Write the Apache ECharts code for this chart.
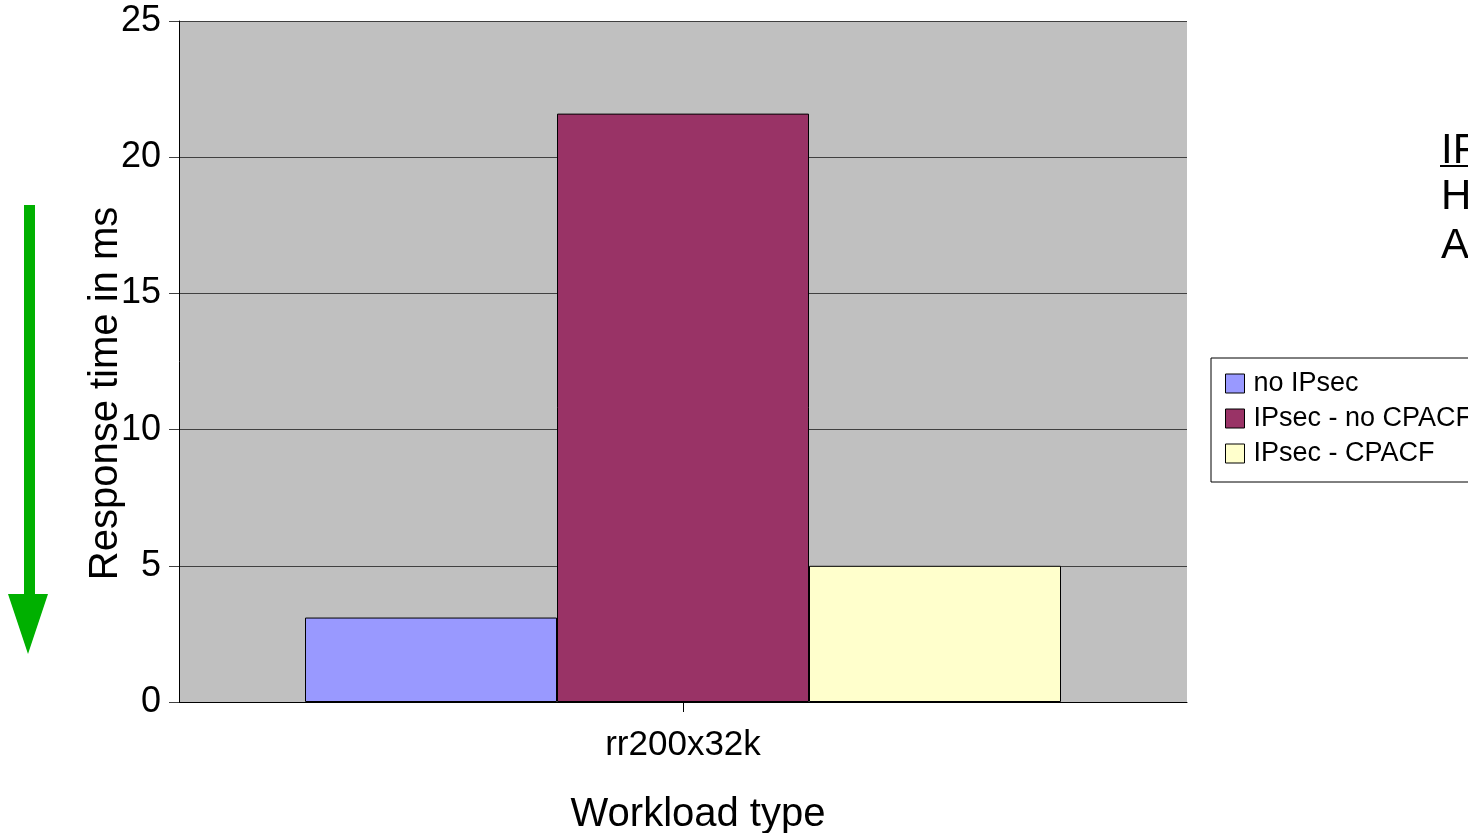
<!DOCTYPE html>
<html>
<head>
<meta charset="utf-8">
<style>
  html, body { margin: 0; padding: 0; background: #ffffff; }
  #chart { width: 1468px; height: 833px; }
</style>
<script src="https://cdn.jsdelivr.net/npm/echarts@6/dist/echarts.min.js"></script>
</head>
<body>
<div id="chart"></div>
<script>
// Workload categories and response times (ms) per configuration
const categories = ['rr200x32k'];
const seriesNames = ['no IPsec', 'IPsec - no CPACF', 'IPsec - CPACF'];
const noIpsec = [3.1];
const ipsecNoCpacf = [21.6];
const ipsecCpacf = [5.0];
const seriesColors = ['#9999ff', '#993366', '#ffffcc'];
const yTicks = { min: 0, max: 25, interval: 5 };

const FONT = 'Liberation Sans, Arial, sans-serif';
const chart = echarts.init(document.getElementById('chart'), null, { renderer: 'canvas' });

const values = [noIpsec, ipsecNoCpacf, ipsecCpacf];

const option = {
  animation: false,
  backgroundColor: '#ffffff',
  grid: {
    left: 179, right: 281, top: 21, bottom: 131,
    containLabel: false,
    outerBoundsMode: 'none',
    show: true, backgroundColor: '#c0c0c0', borderWidth: 0
  },
  legend: {
    orient: 'vertical',
    left: 1211, top: 358,
    padding: [12, 60, 15, 14],
    itemGap: 8,
    itemWidth: 19, itemHeight: 19,
    icon: 'rect',
    borderColor: '#000000', borderWidth: 1,
    backgroundColor: '#ffffff',
    itemStyle: { borderColor: '#000000', borderWidth: 1 },
    textStyle: { fontFamily: FONT, fontSize: 27, color: '#000000', padding: [0, 0, 0, 4], lineHeight: 27 },
    data: seriesNames
  },
  xAxis: {
    type: 'category',
    data: categories,
    name: 'Workload type',
    nameLocation: 'middle',
    nameGap: 93,
    nameMoveOverlap: false,
    nameTextStyle: { fontFamily: FONT, fontSize: 40, color: '#000000', padding: [0, 0, 0, 30] },
    axisLine: { show: true, lineStyle: { color: '#000000', width: 1 } },
    axisTick: { show: true, alignWithLabel: true, length: 10, lineStyle: { color: '#000000' } },
    axisLabel: { fontFamily: FONT, fontSize: 35, color: '#000000', margin: 26 },
    splitLine: { show: false }
  },
  yAxis: {
    type: 'value',
    min: yTicks.min, max: yTicks.max, interval: yTicks.interval,
    name: 'Response time in ms',
    nameLocation: 'middle',
    nameGap: 53,
    nameMoveOverlap: false,
    nameTextStyle: { fontFamily: FONT, fontSize: 40, color: '#000000', padding: [0, 64, 0, 0] },
    axisLine: { show: true, lineStyle: { color: '#000000', width: 1 } },
    axisTick: { show: true, length: 10, lineStyle: { color: '#404040' } },
    axisLabel: { fontFamily: FONT, fontSize: 36, color: '#000000', margin: 18, padding: [9, 0, 0, 0] },
    splitLine: { show: true, lineStyle: { color: '#404040', width: 1 } }
  },
  series: seriesNames.map((name, i) => ({
    name: name,
    type: 'bar',
    data: values[i],
    barGap: '0%',
    barCategoryGap: '25%',
    itemStyle: { color: seriesColors[i], borderColor: '#000000', borderWidth: 1 }
  })),
  graphic: [
    // green downward arrow beside the value axis
    {
      type: 'polygon',
      shape: { points: [[24, 205], [35, 205], [35, 594], [48, 594], [28, 654], [8, 594], [24, 594]] },
      style: { fill: '#00b000' }
    },
    // annotation text on the right edge
    { type: 'text', left: 1441, top: 130, style: { text: 'IP', font: '42px ' + FONT, fill: '#000000' } },
    { type: 'rect', shape: { x: 1440, y: 165, width: 40, height: 2 }, style: { fill: '#000000' } },
    { type: 'text', left: 1441, top: 176, style: { text: 'H', font: '42px ' + FONT, fill: '#000000' } },
    { type: 'text', left: 1441, top: 225, style: { text: 'A', font: '42px ' + FONT, fill: '#000000' } }
  ]
};

chart.setOption(option);
</script>
</body>
</html>
